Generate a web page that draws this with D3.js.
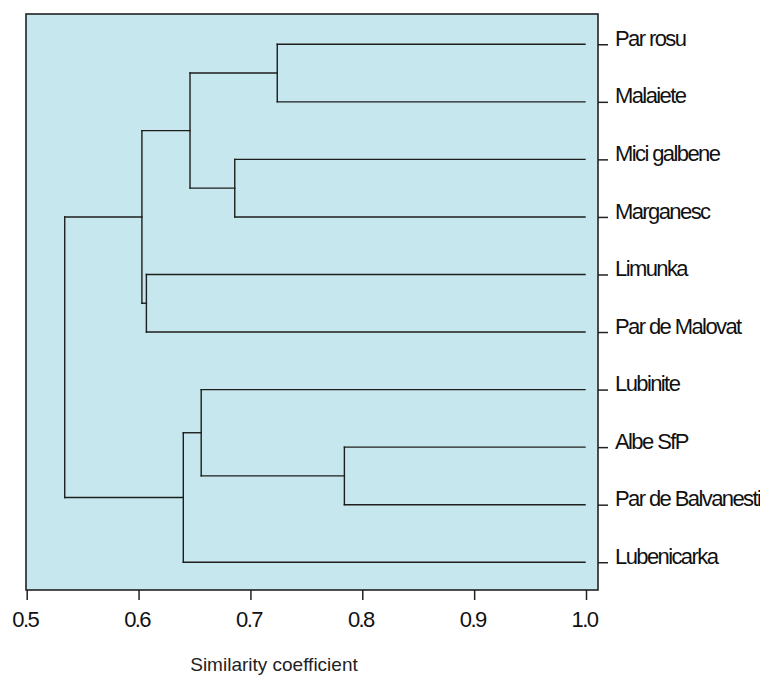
<!DOCTYPE html>
<html>
<head>
<meta charset="utf-8">
<script src="https://cdn.jsdelivr.net/npm/d3@7"></script>
<style>
    body { margin: 0; background: #fff; }
    .axis text { font-family: "Liberation Sans", Arial, sans-serif; font-size: 22px; letter-spacing: -1.6px; fill: #111; }
    .axis line { stroke: #222; stroke-width: 1.5; }
    #xlabel { font-family: "Liberation Sans", Arial, sans-serif; font-size: 19px; fill: #222; }
</style>
</head>
<body>
<div id="chart"></div>
<script>
// leaves, top to bottom
let leaves = ["Par rosu", "Malaiete", "Mici galbene", "Marganesc", "Limunka",
    "Par de Malovat", "Lubinite", "Albe SfP", "Par de Balvanesti", "Lubenicarka"];

// merges: [child a, child b, similarity]; ids 0-9 are leaves, 10+ are earlier merges
let mergeA = [0, 2, 10, 4, 12, 7, 6, 16, 14];
let mergeB = [1, 3, 11, 5, 13, 8, 15, 9, 17];
let mergeHeight = [0.724, 0.686, 0.646, 0.607, 0.603, 0.784, 0.656, 0.640, 0.534];

let xTicks = [0.5, 0.6, 0.7, 0.8, 0.9, 1.0];
let leafHeight = 1.0;

class Dendrogram {
    constructor(parentElement) {
        this.parentElement = parentElement;
    }

    initVis() {
        let vis = this;

        vis.width = 760;
        vis.height = 676;
        vis.panel = {left: 26, right: 598, top: 14, bottom: 590};

        vis.svg = d3.select("#" + vis.parentElement).append("svg")
            .attr("width", vis.width)
            .attr("height", vis.height);

        vis.x = d3.scaleLinear()
            .domain([0.5, 1.0])
            .range([26.7, 586]);

        vis.y = d3.scalePoint()
            .domain(leaves)
            .range([15.5, 591])
            .padding(0.5);

        // background panel
        vis.svg.append("rect")
            .attr("x", vis.panel.left)
            .attr("y", vis.panel.top)
            .attr("width", vis.panel.right - vis.panel.left)
            .attr("height", vis.panel.bottom - vis.panel.top)
            .attr("fill", "#c5e7ed")
            .attr("stroke", "#222")
            .attr("stroke-width", 1.6);

        vis.xAxis = d3.axisBottom(vis.x)
            .tickValues(xTicks)
            .tickFormat(d3.format(".1f"))
            .tickSize(10)
            .tickPadding(11)
            .tickSizeOuter(0);

        vis.yAxis = d3.axisRight(vis.y)
            .tickSize(10)
            .tickPadding(7)
            .tickSizeOuter(0);

        vis.svg.append("g")
            .attr("class", "x-axis axis")
            .attr("transform", "translate(0," + vis.panel.bottom + ")")
            .call(vis.xAxis)
            .call(g => g.select(".domain").remove())
            .selectAll("text").attr("dx", "-2");

        vis.svg.append("g")
            .attr("class", "y-axis axis")
            .attr("transform", "translate(" + vis.panel.right + ",0)")
            .call(vis.yAxis)
            .call(g => g.select(".domain").remove())
            .selectAll("text").attr("dy", "0.05em");

        vis.svg.append("text")
            .attr("id", "xlabel")
            .attr("x", 274)
            .attr("y", 671)
            .attr("text-anchor", "middle")
            .text("Similarity coefficient");

        vis.updateVis();
    }

    updateVis() {
        let vis = this;

        // node positions: leaves first, then merges in order
        let nodes = leaves.map(name => ({y: vis.y(name), h: leafHeight}));
        mergeHeight.forEach((h, i) => {
            let a = nodes[mergeA[i]], b = nodes[mergeB[i]];
            nodes.push({y: (a.y + b.y) / 2, h: h, a: a, b: b});
        });

        let segs = [];
        nodes.filter(n => n.a).forEach(n => {
            segs.push([n.h, n.a.y, n.h, n.b.y]);
            segs.push([n.h, n.a.y, n.a.h, n.a.y]);
            segs.push([n.h, n.b.y, n.b.h, n.b.y]);
        });

        vis.svg.append("g")
            .selectAll("line")
            .data(segs)
            .join("line")
            .attr("x1", d => vis.x(d[0]))
            .attr("y1", d => d[1])
            .attr("x2", d => vis.x(d[2]) - (d[2] === leafHeight ? 1 : 0))
            .attr("y2", d => d[3])
            .attr("stroke", "#1e1e1e")
            .attr("stroke-width", 1.4)
            .attr("stroke-linecap", "square");
    }
}

let chart = new Dendrogram("chart");
chart.initVis();
</script>
</body>
</html>
